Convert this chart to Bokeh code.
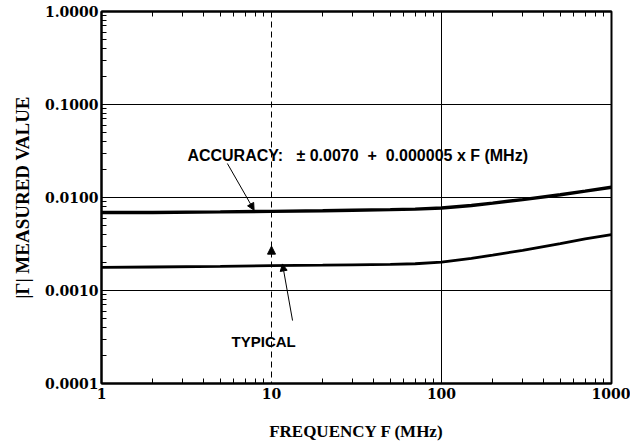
from bokeh.plotting import figure
from bokeh.models import (LogAxis, Span, Label, Arrow, NormalHead,
                          PrintfTickFormatter, FixedTicker)
from bokeh.embed import file_html
from bokeh.resources import INLINE

# ---- data ----
freq = [1, 2, 5, 10, 20, 30, 50, 70, 100, 150, 200, 300, 500, 700, 1000]
accuracy = [0.0069, 0.0069, 0.0070, 0.0071, 0.0072, 0.0073, 0.0074, 0.0075,
            0.0077, 0.0082, 0.0087, 0.0095, 0.0107, 0.0117, 0.0129]
typical = [0.00177, 0.00179, 0.00182, 0.00185, 0.00187, 0.00189, 0.00191,
           0.00194, 0.00202, 0.00222, 0.0024, 0.0027, 0.0032, 0.0036, 0.0040]
x_ticks = [1, 10, 100, 1000]
y_ticks = [0.0001, 0.001, 0.01, 0.1, 1.0]
x_minor = [m * 10 ** e for e in range(0, 3) for m in range(2, 10)]
y_minor = [m * 10.0 ** e for e in range(-4, 0) for m in range(2, 10)]

NB = "\u00a0"
acc_text = ("ACCURACY:" + NB * 3 + "\u00b1" + NB + "0.0070" + NB * 2 + "+" + NB * 2
            + "0.000005" + NB + "x" + NB + "F" + NB + "(MHz)")
typ_text = "TYPICAL"
x_title = "FREQUENCY F (MHz)"
y_title = "|\u0393| MEASURED VALUE"

TICK_FONT = "DejaVu Serif"
TITLE_FONT = "Liberation Serif"
NOTE_FONT = "Liberation Sans"

p = figure(width=630, height=443, x_axis_type="log", y_axis_type="log",
           x_range=(1, 1000), y_range=(1e-4, 1),
           output_backend="svg", toolbar_location=None,
           min_border_left=101, min_border_right=19, min_border_top=11,
           min_border_bottom=58)
p.background_fill_color = "white"
p.border_fill_color = "white"
p.outline_line_color = "black"
p.outline_line_width = 2

xt = FixedTicker(ticks=x_ticks, minor_ticks=x_minor)
yt = FixedTicker(ticks=y_ticks, minor_ticks=y_minor)

for ax in (p.xaxis[0], p.yaxis[0]):
    ax.axis_line_width = 2
    ax.axis_line_color = "black"
    ax.major_tick_in = 0
    ax.major_tick_out = 0
    ax.minor_tick_in = 5
    ax.minor_tick_out = 0
    ax.minor_tick_line_color = "black"
    ax.minor_tick_line_width = 1
    ax.major_label_text_font = TICK_FONT
    ax.major_label_text_font_style = "bold"
    ax.major_label_text_font_size = "14px"
    ax.major_label_text_color = "black"
    ax.axis_label_text_font = TITLE_FONT
    ax.axis_label_text_font_style = "bold"
    ax.axis_label_text_color = "black"

p.xaxis[0].axis_label_text_font_size = "17px"
p.yaxis[0].axis_label_text_font_size = "19px"
p.xaxis[0].ticker = xt
p.yaxis[0].ticker = yt
p.xaxis[0].formatter = PrintfTickFormatter(format="%d")
p.yaxis[0].formatter = PrintfTickFormatter(format="%.4f")
p.xaxis[0].axis_label = x_title
p.yaxis[0].axis_label = y_title
p.xaxis[0].major_label_standoff = 4
p.yaxis[0].major_label_standoff = 3
p.xaxis[0].axis_label_standoff = 20
p.yaxis[0].axis_label_standoff = 9

top = LogAxis(ticker=xt, axis_line_width=2, major_tick_in=0, major_tick_out=0,
              minor_tick_in=5, minor_tick_out=0, minor_tick_line_color="black",
              major_label_text_font_size="1px", major_label_text_alpha=0,
              major_label_standoff=0)
p.add_layout(top, "above")

p.xgrid.visible = False
p.ygrid.ticker = yt
p.ygrid.grid_line_color = "black"
p.ygrid.grid_line_width = 1
p.ygrid.grid_line_alpha = 1

p.add_layout(Span(location=x_ticks[1], dimension="height", line_color="black",
                  line_width=1, line_dash="6 4"))
p.add_layout(Span(location=x_ticks[2], dimension="height", line_color="black",
                  line_width=1))

p.line(freq, accuracy, line_color="black", line_width=3.4)
p.line(freq, typical, line_color="black", line_width=2.8)

# arrow head on dashed line at F = 10
p.add_layout(Arrow(end=NormalHead(size=8, fill_color="black", line_color="black"),
                   x_start=10, y_start=0.0024, x_end=10, y_end=0.0030,
                   line_alpha=0))

# annotation arrows
p.add_layout(Arrow(end=NormalHead(size=7, fill_color="black", line_color="black"),
                   x_start=5.5, y_start=0.0232, x_end=7.9, y_end=0.0073,
                   line_color="black", line_width=1))
p.add_layout(Arrow(end=NormalHead(size=7, fill_color="black", line_color="black"),
                   x_start=13.3, y_start=0.000475, x_end=11.6, y_end=0.00193,
                   line_color="black", line_width=1))

p.add_layout(Label(x=3.2, y=0.0283, text=acc_text, text_font=NOTE_FONT,
                   text_font_style="bold", text_font_size="16px",
                   text_color="black", text_baseline="alphabetic"))
p.add_layout(Label(x=5.82, y=0.000283, text=typ_text, text_font=NOTE_FONT,
                   text_font_style="bold", text_font_size="15px",
                   text_color="black", text_baseline="alphabetic"))

open("out.html", "w").write(file_html(p, INLINE))
